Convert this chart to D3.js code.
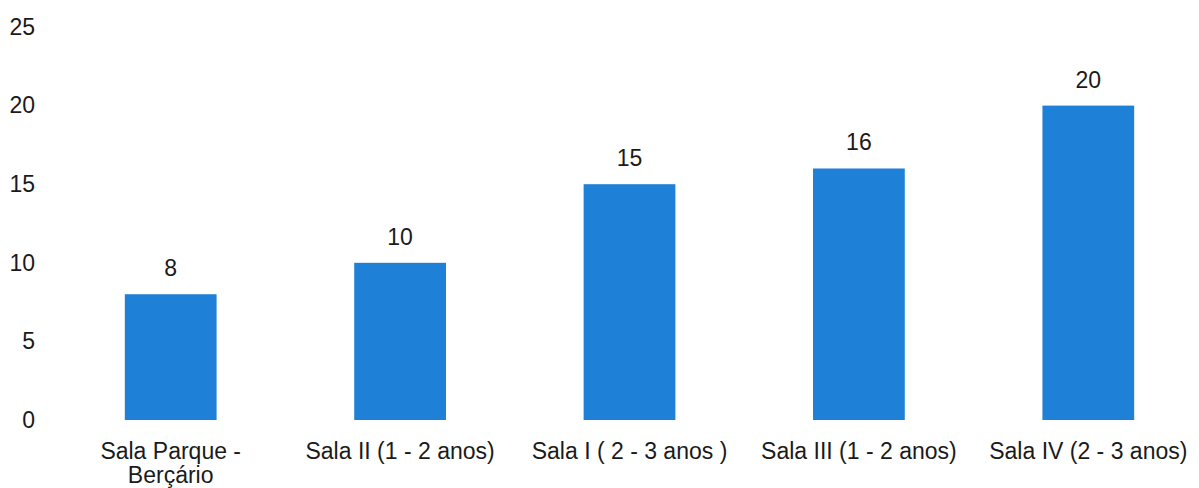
<!DOCTYPE html>
<html>
<head>
<meta charset="utf-8">
<script src="https://cdn.jsdelivr.net/npm/d3@7"></script>
<style>
  body { margin: 0; background: #fff; }
  svg text { font-family: "Liberation Sans", Arial, sans-serif; fill: #1a1a1a; }
</style>
</head>
<body>
<svg id="chart"></svg>
<script>
const width = 1199;
const height = 488;

const categories = [
  ['Sala Parque -', 'Berçário'],
  ['Sala II (1 - 2 anos)'],
  ['Sala I ( 2 - 3 anos )'],
  ['Sala III (1 - 2 anos)'],
  ['Sala IV (2 - 3 anos)']
];
const values = [8, 10, 15, 16, 20];
const yTicks = [0, 5, 10, 15, 20, 25];

const fontSize = 23;

const svg = d3.select('#chart')
  .attr('width', width)
  .attr('height', height);

const x = d3.scaleBand()
  .domain(d3.range(values.length))
  .range([56, 1203])
  .paddingInner(0.6)
  .paddingOuter(0.3);

const y = d3.scaleLinear()
  .domain([0, 25])
  .range([420, 27]);

// y axis: labels only, no line or ticks
const yAxis = d3.axisLeft(y)
  .tickValues(yTicks)
  .tickSize(0)
  .tickPadding(0);

svg.append('g')
  .attr('transform', 'translate(35,0)')
  .call(yAxis)
  .call(g => g.select('.domain').remove())
  .attr('font-size', fontSize)
  .attr('font-family', '"Liberation Sans", Arial, sans-serif')
  .selectAll('text')
  .attr('fill', '#1a1a1a');

svg.append('g')
  .selectAll('rect')
  .data(values)
  .enter()
  .append('rect')
  .attr('x', (d, i) => x(i))
  .attr('y', d => y(d))
  .attr('width', x.bandwidth())
  .attr('height', d => y(0) - y(d))
  .attr('fill', '#1f80d8');

svg.append('g')
  .selectAll('text')
  .data(values)
  .enter()
  .append('text')
  .attr('x', (d, i) => x(i) + x.bandwidth() / 2)
  .attr('y', d => y(d) - 18)
  .attr('text-anchor', 'middle')
  .attr('font-size', fontSize)
  .text(d => d);

const labels = svg.append('g')
  .selectAll('text')
  .data(categories)
  .enter()
  .append('text')
  .attr('x', (d, i) => x(i) + x.bandwidth() / 2)
  .attr('y', 459)
  .attr('text-anchor', 'middle')
  .attr('font-size', fontSize);

labels.selectAll('tspan')
  .data(d => d)
  .enter()
  .append('tspan')
  .attr('x', function () { return d3.select(this.parentNode).attr('x'); })
  .attr('dy', (d, i) => i === 0 ? 0 : 24)
  .text(d => d);
</script>
</body>
</html>
